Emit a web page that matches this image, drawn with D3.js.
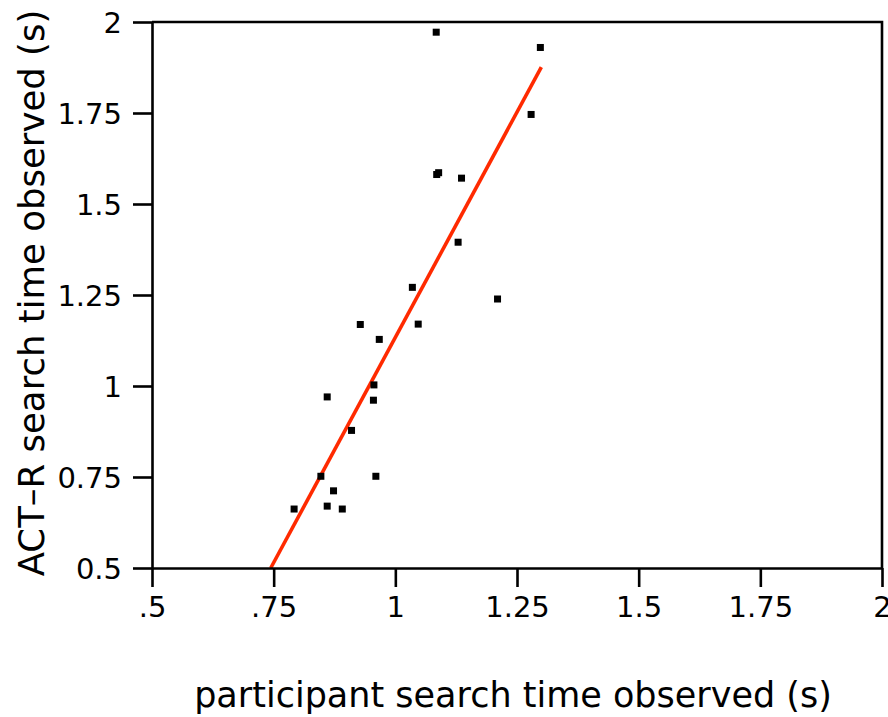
<!DOCTYPE html>
<html>
<head>
<meta charset="utf-8">
<script src="https://cdn.jsdelivr.net/npm/d3@7"></script>
<style>
  html, body { margin: 0; padding: 0; background: #fff; }
  svg { display: block; }
  text { font-family: "DejaVu Sans", sans-serif; fill: #000; }
</style>
</head>
<body>
<svg id="chart" width="888" height="717"></svg>
<script>
// Observed search times: participant (x) vs. ACT-R model (y), in seconds
const participantTime = [1.084, 1.298, 1.279, 1.085, 1.089, 1.136, 1.129, 1.035, 1.210, 1.047,
                         0.928, 0.967, 0.956, 0.860, 0.955, 0.910, 0.960, 0.847, 0.873, 0.860,
                         0.792, 0.891];
const actrTime        = [1.972, 1.930, 1.746, 1.581, 1.586, 1.571, 1.395, 1.271, 1.239, 1.170,
                         1.169, 1.128, 1.003, 0.970, 0.961, 0.878, 0.752, 0.752, 0.712, 0.670,
                         0.662, 0.662];

// Fitted line endpoints (x, y)
const fitX = [0.744, 1.300];
const fitY = [0.500, 1.876];

// Axis ticks and their labels
const xTicks = [0.5, 0.75, 1, 1.25, 1.5, 1.75, 2];
const xTickLabels = [".5", ".75", "1", "1.25", "1.5", "1.75", "2"];
const yTicks = [0.5, 0.75, 1, 1.25, 1.5, 1.75, 2];
const yTickLabels = ["0.5", "0.75", "1", "1.25", "1.5", "1.75", "2"];

const xTitle = "participant search time observed (s)";
const yTitle = "ACT\u2013R search time observed (s)";

const svg = d3.select("#chart");
const plotLeft = 152, plotRight = 882, plotTop = 22, plotBottom = 568;

const x = d3.scaleLinear().domain([0.5, 2]).range([plotLeft, plotRight]);
const y = d3.scaleLinear().domain([0.5, 2]).range([plotBottom, plotTop]);

// Fitted regression line
svg.append("path")
  .datum(fitX.map((v, i) => [v, fitY[i]]))
  .attr("fill", "none")
  .attr("stroke", "#ff2a00")
  .attr("stroke-width", 3.6)
  .attr("d", d3.line().x(d => x(d[0])).y(d => y(d[1])));

// Data points as small squares
const pts = participantTime.map((v, i) => [v, actrTime[i]]);
const sz = 7;
svg.append("g").selectAll("rect")
  .data(pts)
  .join("rect")
  .attr("x", d => x(d[0]) - sz / 2)
  .attr("y", d => y(d[1]) - sz / 2)
  .attr("width", sz)
  .attr("height", sz)
  .attr("fill", "#000");

// Frame: top and right edges
svg.append("path")
  .attr("d", `M${plotLeft},${plotTop}H${plotRight}V${plotBottom}`)
  .attr("fill", "none")
  .attr("stroke", "#000")
  .attr("stroke-width", 2.6);

// Axes
const xAxis = d3.axisBottom(x)
  .tickValues(xTicks)
  .tickFormat((d, i) => xTickLabels[i])
  .tickSize(19)
  .tickSizeOuter(0)
  .tickPadding(8);
const yAxis = d3.axisLeft(y)
  .tickValues(yTicks)
  .tickFormat((d, i) => yTickLabels[i])
  .tickSize(19)
  .tickSizeOuter(0)
  .tickPadding(11);

const gx = svg.append("g").attr("transform", `translate(0,${plotBottom})`).call(xAxis);
const gy = svg.append("g").attr("transform", `translate(${plotLeft},0)`).call(yAxis);

[gx, gy].forEach(g => {
  g.selectAll("path.domain").attr("stroke", "#000").attr("stroke-width", 2.6);
  g.selectAll(".tick line").attr("stroke", "#000").attr("stroke-width", 2.6);
  g.selectAll(".tick text")
    .style("font-family", "'DejaVu Sans', sans-serif")
    .style("font-size", "29px")
    .attr("fill", "#000");
});
gx.selectAll(".tick text").attr("dy", "0.76em");
gy.selectAll(".tick text").attr("dy", "0.36em");

// Axis titles
svg.append("text")
  .attr("x", 513)
  .attr("y", 707)
  .attr("text-anchor", "middle")
  .style("font-size", "35px")
  .text(xTitle);

svg.append("text")
  .attr("transform", `translate(44,293) rotate(-90)`)
  .attr("text-anchor", "middle")
  .style("font-size", "35.5px")
  .text(yTitle);
</script>
</body>
</html>
